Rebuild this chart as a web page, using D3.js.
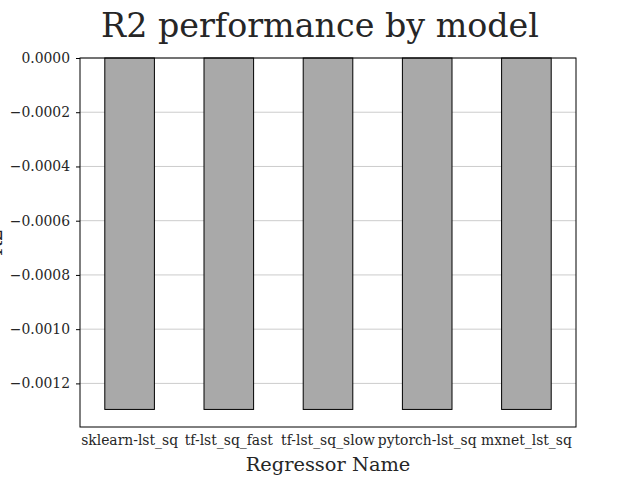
<!DOCTYPE html>
<html>
<head>
<meta charset="utf-8">
<script src="https://cdn.jsdelivr.net/npm/d3@7"></script>
<style>
  body { margin: 0; background: #fff; }
  svg text { font-family: "DejaVu Serif", serif; fill: #262626; }
</style>
</head>
<body>
<div id="chart"></div>
<script>
var models   = ["sklearn-lst_sq", "tf-lst_sq_fast", "tf-lst_sq_slow", "pytorch-lst_sq", "mxnet_lst_sq"];
var r2Values = [-0.001296, -0.001296, -0.001296, -0.001296, -0.001296];
var yTicks   = [0, -0.0002, -0.0004, -0.0006, -0.0008, -0.0010, -0.0012];

var width  = 640;
var height = 480;
var margin = { top: 58, right: 64, bottom: 53, left: 80 };

var svg = d3.select("#chart").append("svg")
  .attr("width", width)
  .attr("height", height);

var x = d3.scaleBand()
  .domain(models)
  .range([margin.left, width - margin.right])
  .paddingInner(0.5)
  .paddingOuter(0.25);

// matplotlib style 5% margin below the lowest bar
var yMin = d3.min(r2Values);
var y = d3.scaleLinear()
  .domain([yMin * 1.05, 0])
  .range([height - margin.bottom, margin.top]);

var fmt = function (d) { return d3.format(".4f")(d).replace("-", "\u2212"); };

// grid lines
svg.append("g")
  .selectAll("line")
  .data(yTicks)
  .join("line")
  .attr("x1", margin.left)
  .attr("x2", width - margin.right)
  .attr("y1", function (d) { return y(d); })
  .attr("y2", function (d) { return y(d); })
  .attr("stroke", "#cccccc")
  .attr("stroke-width", 1);

// bars
svg.append("g")
  .selectAll("rect")
  .data(models)
  .join("rect")
  .attr("x", function (d) { return x(d); })
  .attr("y", y(0))
  .attr("width", x.bandwidth())
  .attr("height", function (d, i) { return y(r2Values[i]) - y(0); })
  .attr("fill", "#a9a9a9")
  .attr("stroke", "#000")
  .attr("stroke-width", 1);

// frame
svg.append("rect")
  .attr("x", margin.left)
  .attr("y", margin.top)
  .attr("width", width - margin.left - margin.right)
  .attr("height", height - margin.top - margin.bottom)
  .attr("fill", "none")
  .attr("stroke", "#000")
  .attr("stroke-width", 1);

// y axis
var yAxis = svg.append("g")
  .attr("transform", "translate(" + margin.left + ",0)")
  .call(d3.axisLeft(y).tickValues(yTicks).tickFormat(fmt).tickSize(4).tickPadding(6));
yAxis.select(".domain").remove();
yAxis.selectAll("text").attr("font-size", 13.9).attr("font-family", "DejaVu Serif").style("fill", "#262626");

// x axis
var xAxis = svg.append("g")
  .attr("transform", "translate(0," + (height - margin.bottom) + ")")
  .call(d3.axisBottom(x).tickSize(0).tickPadding(8));
xAxis.select(".domain").remove();
xAxis.selectAll("text").attr("font-size", 13.9).attr("font-family", "DejaVu Serif").style("fill", "#262626");

// labels
svg.append("text")
  .attr("x", (margin.left + width - margin.right) / 2)
  .attr("y", 471)
  .attr("text-anchor", "middle")
  .attr("font-size", 19.4)
  .text("Regressor Name");

// y label sits mostly off the left edge, as in the original
svg.append("text")
  .attr("transform", "translate(1.5," + ((margin.top + height - margin.bottom) / 2) + ") rotate(-90)")
  .attr("text-anchor", "middle")
  .attr("font-size", 19.4)
  .text("R2");

svg.append("text")
  .attr("x", 320)
  .attr("y", 37)
  .attr("text-anchor", "middle")
  .attr("font-size", 33.3)
  .text("R2 performance by model");
</script>
</body>
</html>
